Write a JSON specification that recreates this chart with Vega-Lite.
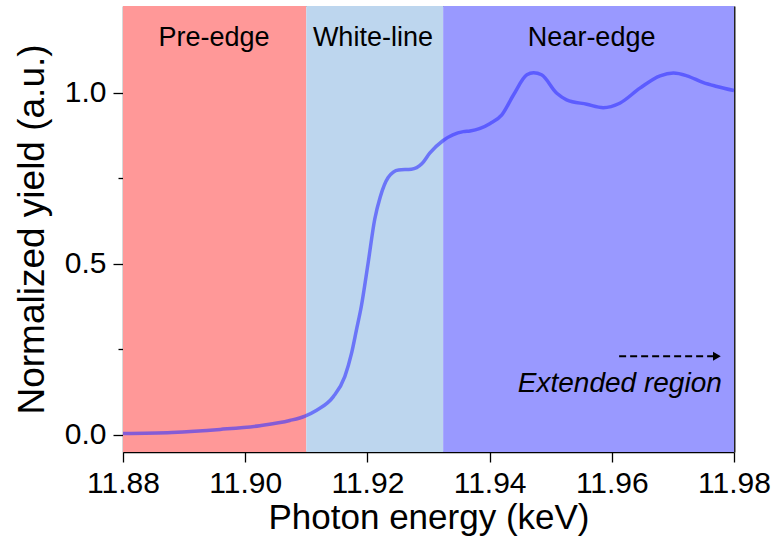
{
  "$schema": "https://vega.github.io/schema/vega-lite/v6.json",
  "width": 611,
  "height": 446,
  "autosize": "none",
  "padding": {"left": 123, "top": 6, "right": 42, "bottom": 98},
  "background": "white",
  "config": {
    "font": "Liberation Sans",
    "view": {"stroke": null},
    "axis": {"grid": false, "labelFont": "Liberation Sans", "titleFont": "Liberation Sans", "labelColor": "black", "titleColor": "black", "titleFontWeight": "normal"}
  },
  "datasets": {
    "regions": [
      {"region": "Pre-edge", "start": 11.88, "end": 11.91},
      {"region": "White-line", "start": 11.91, "end": 11.9324},
      {"region": "Near-edge", "start": 11.9324, "end": 11.98}
    ],
    "labels": [
      {"label": "Pre-edge", "x": 11.8949, "y": 1.137},
      {"label": "White-line", "x": 11.9209, "y": 1.137},
      {"label": "Near-edge", "x": 11.9567, "y": 1.137}
    ],
    "arrow": [
      {"x": 11.9612, "x2": 11.9766, "y": 0.23}
    ],
    "arrowhead": [
      {"x": 11.9772, "y": 0.23}
    ],
    "note": [
      {"label": "Extended region", "x": 11.978, "y": 0.126}
    ],
    "spectrum": [
      {"energy": 11.8800, "yield": 0.004},
      {"energy": 11.8880, "yield": 0.007},
      {"energy": 11.8959, "yield": 0.016},
      {"energy": 11.9024, "yield": 0.027},
      {"energy": 11.9073, "yield": 0.042},
      {"energy": 11.9098, "yield": 0.055},
      {"energy": 11.9117, "yield": 0.072},
      {"energy": 11.9144, "yield": 0.111},
      {"energy": 11.9163, "yield": 0.170},
      {"energy": 11.9174, "yield": 0.238},
      {"energy": 11.9182, "yield": 0.306},
      {"energy": 11.9190, "yield": 0.375},
      {"energy": 11.9201, "yield": 0.500},
      {"energy": 11.9212, "yield": 0.630},
      {"energy": 11.9221, "yield": 0.695},
      {"energy": 11.9234, "yield": 0.752},
      {"energy": 11.9251, "yield": 0.774},
      {"energy": 11.9272, "yield": 0.776},
      {"energy": 11.9289, "yield": 0.792},
      {"energy": 11.9302, "yield": 0.823},
      {"energy": 11.9324, "yield": 0.860},
      {"energy": 11.9357, "yield": 0.886},
      {"energy": 11.9368, "yield": 0.888},
      {"energy": 11.9401, "yield": 0.910},
      {"energy": 11.9420, "yield": 0.935},
      {"energy": 11.9439, "yield": 0.993},
      {"energy": 11.9461, "yield": 1.052},
      {"energy": 11.9472, "yield": 1.058},
      {"energy": 11.9485, "yield": 1.052},
      {"energy": 11.9510, "yield": 0.998},
      {"energy": 11.9526, "yield": 0.979},
      {"energy": 11.9559, "yield": 0.966},
      {"energy": 11.9586, "yield": 0.956},
      {"energy": 11.9613, "yield": 0.969},
      {"energy": 11.9646, "yield": 1.013},
      {"energy": 11.9679, "yield": 1.049},
      {"energy": 11.9701, "yield": 1.057},
      {"energy": 11.9723, "yield": 1.049},
      {"energy": 11.9750, "yield": 1.029},
      {"energy": 11.9772, "yield": 1.018},
      {"energy": 11.9800, "yield": 1.006}
    ]
  },
  "resolve": {"axis": {"x": "independent", "y": "independent"}},
  "layer": [
    {
      "data": {"name": "regions"},
      "mark": {"type": "rect", "stroke": null},
      "encoding": {
        "x": {"field": "start", "type": "quantitative", "scale": {"domain": [11.88, 11.98], "nice": false, "zero": false},
          "axis": {"orient": "top", "values": [11.9, 11.92, 11.94, 11.96], "labels": false, "title": null, "tickSize": -9, "tickColor": "#707070", "tickWidth": 1, "domainColor": "#808080", "domainWidth": 1}},
        "x2": {"field": "end"},
        "color": {"field": "region", "type": "nominal", "legend": null,
          "scale": {"domain": ["Pre-edge", "White-line", "Near-edge"], "range": ["#FF9898", "#BDD6EE", "#9999FF"]}}
      }
    },
    {
      "data": {"name": "spectrum"},
      "mark": {"type": "line", "interpolate": "monotone", "color": "#3333FF", "strokeWidth": 3.5, "opacity": 0.6},
      "encoding": {
        "x": {"field": "energy", "type": "quantitative", "scale": {"domain": [11.88, 11.98], "nice": false, "zero": false},
          "axis": {"orient": "bottom", "values": [11.88, 11.9, 11.92, 11.94, 11.96, 11.98], "format": ".2f", "title": "Photon energy (keV)",
            "labelFontSize": 30, "titleFontSize": 35, "tickSize": 10, "tickColor": "black", "tickWidth": 1.3, "domainColor": "black", "domainWidth": 1.3,
            "labelPadding": 6, "labelFlush": false, "titleBaseline": "alphabetic", "titleY": 76}},
        "y": {"field": "yield", "type": "quantitative", "scale": {"domain": [-0.05, 1.253], "nice": false, "zero": false},
          "axis": {"orient": "left", "values": [0, 0.25, 0.5, 0.75, 1.0], "labelExpr": "datum.value == 0.25 || datum.value == 0.75 ? '' : format(datum.value, '.1f')",
            "title": "Normalized yield (a.u.)", "labelFontSize": 30, "titleFontSize": 37,
            "tickSize": {"condition": {"test": "datum.value == 0.25 || datum.value == 0.75", "value": 5}, "value": 10},
            "tickColor": "black", "tickWidth": 1.3, "domainColor": "black", "domainWidth": 1.3, "labelPadding": 7, "labelFlush": false,
            "titleBaseline": "alphabetic", "titleX": -80}}
      }
    },
    {
      "data": {"name": "labels"},
      "mark": {"type": "text", "fontSize": 27, "baseline": "alphabetic", "align": "center", "color": "black"},
      "encoding": {
        "x": {"field": "x", "type": "quantitative", "axis": null},
        "y": {"field": "y", "type": "quantitative",
          "axis": {"orient": "right", "labels": false, "ticks": false, "title": null, "domainColor": "#222222", "domainWidth": 2}},
        "text": {"field": "label"}
      }
    },
    {
      "data": {"name": "arrow"},
      "mark": {"type": "rule", "strokeDash": [7, 4], "strokeWidth": 2, "color": "black"},
      "encoding": {
        "x": {"field": "x", "type": "quantitative", "axis": null},
        "x2": {"field": "x2"},
        "y": {"field": "y", "type": "quantitative", "axis": null}
      }
    },
    {
      "data": {"name": "arrowhead"},
      "mark": {"type": "point", "shape": "triangle-right", "filled": true, "size": 80, "color": "black", "opacity": 1},
      "encoding": {
        "x": {"field": "x", "type": "quantitative", "axis": null},
        "y": {"field": "y", "type": "quantitative", "axis": null}
      }
    },
    {
      "data": {"name": "note"},
      "mark": {"type": "text", "fontSize": 28, "fontStyle": "italic", "baseline": "alphabetic", "align": "right", "color": "black"},
      "encoding": {
        "x": {"field": "x", "type": "quantitative", "axis": null},
        "y": {"field": "y", "type": "quantitative", "axis": null},
        "text": {"field": "label"}
      }
    }
  ]
}
